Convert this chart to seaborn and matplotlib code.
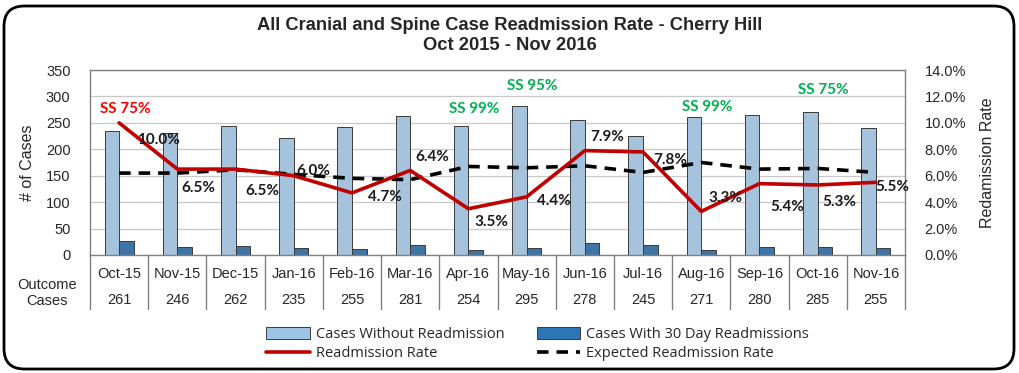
import numpy as np
import pandas as pd
import matplotlib
matplotlib.use("Agg")
import matplotlib.pyplot as plt
import matplotlib.transforms as mtransforms
from matplotlib.patches import Patch, FancyBboxPatch
from matplotlib.lines import Line2D
import seaborn as sns

# ---------------------------------------------------------------
# data
# ---------------------------------------------------------------
months = ["Oct-15", "Nov-15", "Dec-15", "Jan-16", "Feb-16", "Mar-16", "Apr-16",
          "May-16", "Jun-16", "Jul-16", "Aug-16", "Sep-16", "Oct-16", "Nov-16"]
outcome_cases = [261, 246, 262, 235, 255, 281, 254, 295, 278, 245, 271, 280, 285, 255]
cases_without = [235, 230, 245, 221, 243, 263, 245, 282, 256, 226, 262, 265, 270, 241]
cases_with = [26, 16, 17, 14, 12, 18, 9, 13, 22, 19, 9, 15, 15, 14]
readmit_rate = [10.0, 6.5, 6.5, 6.0, 4.7, 6.4, 3.5, 4.4, 7.9, 7.8, 3.3, 5.4, 5.3, 5.5]
expected_rate = [6.2, 6.2, 6.45, 6.1, 5.8, 5.7, 6.7, 6.6, 6.75, 6.25, 7.0, 6.5, 6.55, 6.25]

ss_months = ["Oct-15", "Apr-16", "May-16", "Aug-16", "Oct-16"]
ss_labels = ["SS 75%", "SS 99%", "SS 95%", "SS 99%", "SS 75%"]
ss_colors = ["#FF0000", "#00B050", "#00B050", "#00B050", "#00B050"]

# label offsets (pixels) for the readmission rate labels: (dx, dy up)
label_offsets = [(39, -17), (21, -19), (27, -22), (20, 5), (33, -4), (22, 13), (23, -13),
                 (27, -4), (22, 14), (27, -8), (24, 13), (28, -23), (22, -17), (16, -5)]
ss_y = [276, 276, 320, 280, 312]

C_LIGHT = "#9DC3E6"
C_DARK = "#2E75B6"
C_RED = "#C00000"

sns.set_theme(style="white")
plt.rcParams['font.family'] = ['Liberation Sans', 'DejaVu Sans']

df = pd.DataFrame({
    "month": months * 2,
    "cases": cases_without + cases_with,
    "kind": ["Cases Without Readmission"] * len(months) + ["Cases With 30 Day Readmissions"] * len(months),
})

fig = plt.figure(figsize=(10.2, 3.73), dpi=100)
ax = fig.add_axes([90 / 1020, 1 - 255 / 373, 815 / 1020, 185 / 373])

sns.barplot(data=df, x="month", y="cases", hue="kind", order=months,
            hue_order=["Cases Without Readmission", "Cases With 30 Day Readmissions"],
            palette={"Cases Without Readmission": C_LIGHT, "Cases With 30 Day Readmissions": C_DARK},
            width=0.5, edgecolor="#3a3a3a", linewidth=0.7, legend=False, ax=ax, zorder=2)

ax.set_xlim(-0.5, len(months) - 0.5)
ax.set_ylim(0, 350)
ax.set_yticks(np.arange(0, 351, 50))
ax.yaxis.grid(True, color="#C8C8C8", linewidth=0.9, zorder=0)
ax.set_axisbelow(True)
ax.set_xticks([])
ax.set_xlabel("")
ax.set_ylabel("# of Cases", fontsize=11.5, color="#262626", labelpad=8)
ax.tick_params(axis="y", labelsize=10.5, length=0, pad=14, colors="#262626")
for s in ax.spines.values():
    s.set_color("#808080")
    s.set_linewidth(1.0)

ax2 = ax.twinx()
x = np.arange(len(months))
sns.lineplot(x=x, y=np.array(readmit_rate) / 100, color=C_RED, linewidth=2.6, ax=ax2, zorder=4)
sns.lineplot(x=x, y=np.array(expected_rate) / 100, color="black", linewidth=2.6, ax=ax2, zorder=3)
ax2.lines[1].set_dashes([3.2, 2.2])
ax2.set_ylim(0, 0.14)
ax2.set_yticks(np.arange(0, 0.141, 0.02))
ax2.set_yticklabels([f"{v * 100:.1f}%" for v in np.arange(0, 0.141, 0.02)])
ax2.tick_params(axis="y", labelsize=10.5, length=0, pad=14, colors="#262626")
ax2.set_ylabel("Redamission Rate", fontsize=11.5, color="#262626", labelpad=10)
ax2.set_xlim(-0.5, len(months) - 0.5)
for s in ax2.spines.values():
    s.set_visible(False)

for i, (r, off) in enumerate(zip(readmit_rate, label_offsets)):
    ax2.annotate(f"{r:.1f}%", (i, r / 100), xytext=off, textcoords="offset pixels",
                 ha="center", va="center", fontsize=11, fontweight="bold",
                 family=["Lato", "DejaVu Sans"], color="#1a1a1a", zorder=6)

for m, lab, c, yv in zip(ss_months, ss_labels, ss_colors, ss_y):
    ax.text(months.index(m) + 0.1, yv, lab, color=c, fontsize=11, fontweight="bold",
            family=["Lato", "DejaVu Sans"], ha="center", va="center", zorder=6)

# table below the axis
trans = mtransforms.blended_transform_factory(ax.transData, ax.transAxes)
for i, (m, n) in enumerate(zip(months, outcome_cases)):
    ax.text(i, -0.103, m, transform=trans, ha="center", va="center", fontsize=10.5, color="#262626")
    ax.text(i, -0.243, str(n), transform=trans, ha="center", va="center", fontsize=10.5, color="#262626")
for b in np.arange(-0.5, len(months), 1.0):
    ax.plot([b, b], [0, -0.29], transform=trans, color="#808080", linewidth=1.0, clip_on=False)
fig.text(47 / 1020, 1 - 293 / 373, "Outcome\nCases", ha="center", va="center",
         fontsize=10.5, color="#262626", linespacing=1.2)

fig.text(0.5, 1 - 26 / 373, "All Cranial and Spine Case Readmission Rate - Cherry Hill",
         ha="center", va="center", fontsize=13.2, fontweight="bold")
fig.text(0.5, 1 - 46 / 373, "Oct 2015 - Nov 2016", ha="center", va="center",
         fontsize=13.2, fontweight="bold")

handles = [
    Patch(facecolor=C_LIGHT, edgecolor="#3a3a3a", linewidth=0.7),
    Line2D([0], [0], color=C_RED, linewidth=2.6),
    Patch(facecolor=C_DARK, edgecolor="#3a3a3a", linewidth=0.7),
    Line2D([0], [0], color="black", linewidth=2.6, dashes=[3.2, 2.2]),
]
labels = ["Cases Without Readmission", "Readmission Rate",
          "Cases With 30 Day Readmissions", "Expected Readmission Rate"]
fig.legend(handles, labels, ncol=2, loc="center left", bbox_to_anchor=(259 / 1020, 1 - 344 / 373),
           frameon=False, prop={"family": ["Open Sans", "DejaVu Sans"], "size": 10.5},
           handlelength=3.0, handleheight=0.9, handletextpad=0.4, columnspacing=2.2,
           labelspacing=0.3, borderpad=0)

border = FancyBboxPatch((4 / 1020, 4 / 373), 1 - 10 / 1020, 1 - 10 / 373,
                        boxstyle="round,pad=0,rounding_size=0.02", transform=fig.transFigure,
                        facecolor="none", edgecolor="black", linewidth=2.0,
                        mutation_aspect=1020 / 373)
fig.patches.append(border)

fig.savefig("out.png", dpi=100)
